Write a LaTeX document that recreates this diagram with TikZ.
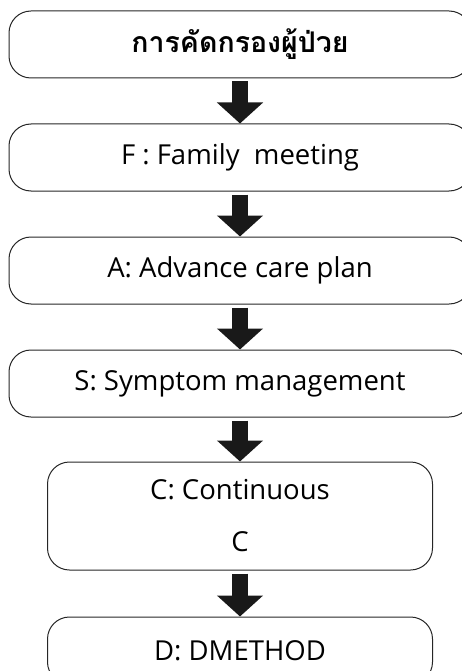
\documentclass[tikz,border=0pt]{standalone}
\usepackage{fontspec}
\setmainfont{Open Sans}
\newfontfamily\thaifont[Script=Thai]{Loma}
\usetikzlibrary{arrows.meta,positioning}

\begin{document}
\begin{tikzpicture}[
    node distance=45pt,
    stagebox/.style={
        draw=black!85,
        line width=1pt,
        rounded corners=22pt,
        minimum height=67pt,
        minimum width=462pt,
        inner sep=0pt,
        align=center,
        font=\fontsize{27.5}{33}\selectfont
    },
    narrowbox/.style={
        stagebox,
        minimum width=385pt
    },
    bigarrow/.style={
        line width=16pt,
        black!90,
        shorten <=3pt,
        -{Triangle[length=21pt,width=45pt]}
    }
]

\useasboundingbox (0,0) rectangle (462pt,-671pt);

\node[stagebox] (screen) at (240pt,-44.5pt)
    {\thaifont\bfseries\fontsize{28.5}{33}\selectfont การคัดกรองผู้ป่วย};
\node[stagebox, below=of screen] (family) {F : Family\ \ meeting};
\node[stagebox, below=of family] (advance) {A: Advance care plan};
\node[stagebox, below=of advance] (symptom) {S: Symptom management};
\node[narrowbox, minimum height=108pt, below=44pt of symptom] (cont)
    {C: Continuous\\[19pt]C};
\node[narrowbox, below=46pt of cont] (dmethod) {D: DMETHOD};

\draw[bigarrow] (screen.south) -- (family.north);
\draw[bigarrow] (family.south) -- (advance.north);
\draw[bigarrow] (advance.south) -- (symptom.north);
\draw[bigarrow] (symptom.south) -- (cont.north);
\draw[bigarrow] (cont.south) -- (dmethod.north);

\end{tikzpicture}
\end{document}
